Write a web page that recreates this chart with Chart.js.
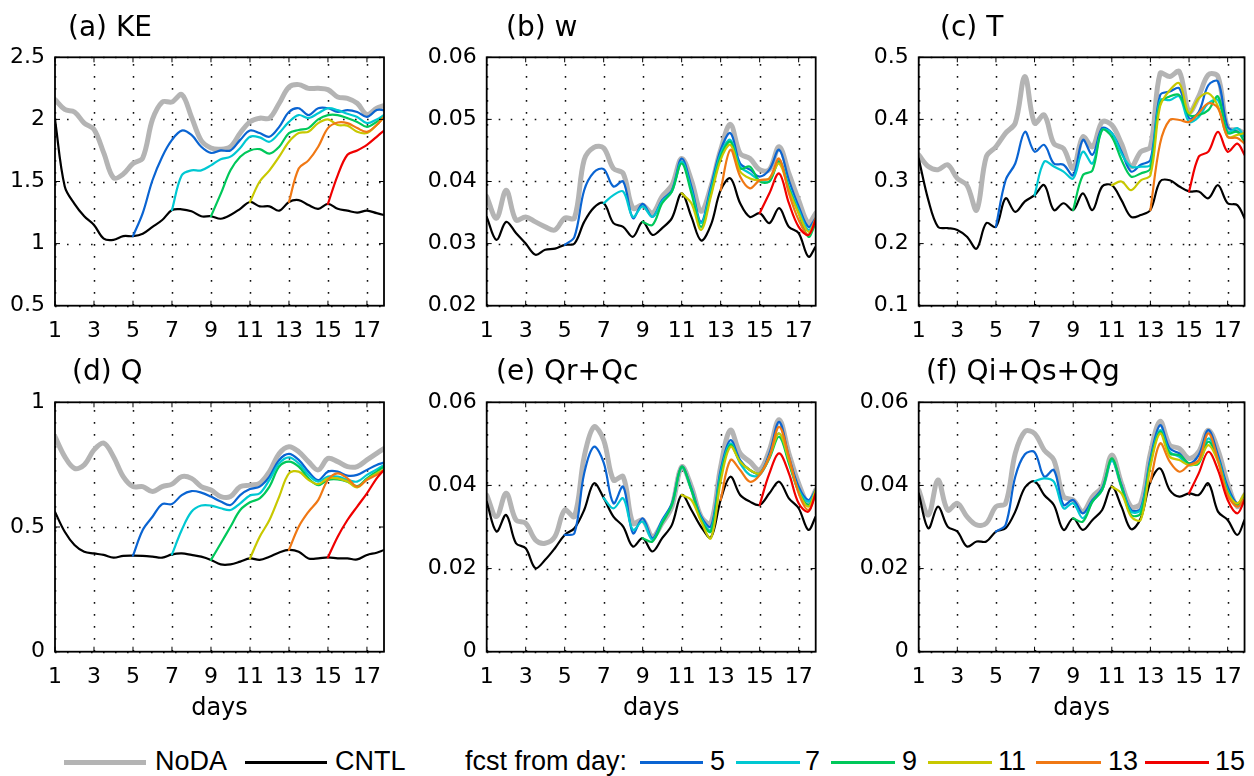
<!DOCTYPE html>
<html>
<head>
<meta charset="utf-8">
<script src="https://cdn.jsdelivr.net/npm/chart.js@4.4.1/dist/chart.umd.min.js"></script>
<style>
  html, body { margin: 0; padding: 0; background: #fff; }
  #fig { position: relative; width: 1254px; height: 776px; overflow: hidden; background: #fff; }
  #fig canvas { position: absolute; }
  .lg-line { position: absolute; }
  .lg-text { position: absolute; font: 27px "Liberation Sans", Arial, sans-serif; line-height: 27px; color: #000; white-space: nowrap; }
</style>
</head>
<body>
<div id="fig">
  <!-- legend -->
  <div class="lg-line" style="left:64px; top:760px; width:82px; height:5px; background:#b4b4b4;"></div>
  <div class="lg-text" style="left:155px; top:748px;">NoDA</div>
  <div class="lg-line" style="left:245px; top:761px; width:82px; height:3px; background:#000;"></div>
  <div class="lg-text" style="left:335px; top:748px;">CNTL</div>
  <div class="lg-text" style="left:465px; top:748px;">fcst from day:</div>
  <div class="lg-line" style="left:640px; top:761px; width:63px; height:3px; background:#0a64d2;"></div>
  <div class="lg-text" style="left:710px; top:748px;">5</div>
  <div class="lg-line" style="left:736px; top:761px; width:64px; height:3px; background:#00c8d2;"></div>
  <div class="lg-text" style="left:805px; top:748px;">7</div>
  <div class="lg-line" style="left:831px; top:761px; width:64px; height:3px; background:#00c85a;"></div>
  <div class="lg-text" style="left:902px; top:748px;">9</div>
  <div class="lg-line" style="left:928px; top:761px; width:64px; height:3px; background:#c8c800;"></div>
  <div class="lg-text" style="left:998px; top:748px;">11</div>
  <div class="lg-line" style="left:1036px; top:761px; width:65px; height:3px; background:#f07814;"></div>
  <div class="lg-text" style="left:1108px; top:748px;">13</div>
  <div class="lg-line" style="left:1145px; top:761px; width:64px; height:3px; background:#f00000;"></div>
  <div class="lg-text" style="left:1215px; top:748px;">15</div>
</div>

<script>
// half-day sampling, last sample is the end of the run
const DAYS = [1, 1.5, 2, 2.5, 3, 3.5, 4, 4.5, 5, 5.5, 6, 6.5, 7, 7.5, 8, 8.5, 9, 9.5,
  10, 10.5, 11, 11.5, 12, 12.5, 13, 13.5, 14, 14.5, 15, 15.5, 16, 16.5, 17, 17.5, 17.875];
const X_TICKS = [1, 3, 5, 7, 9, 11, 13, 15, 17];
const FCST_START = [5, 7, 9, 11, 13, 15];
const FCST_COLORS = ['#0a64d2', '#00c8d2', '#00c85a', '#c8c800', '#f07814', '#f00000'];

// (a) KE
const KE_YTICKS = [0.5, 1, 1.5, 2, 2.5];
const KE_NODA = [2.16, 2.08, 2.06, 1.97, 1.92, 1.73, 1.53, 1.56, 1.645, 1.69, 2.0, 2.14, 2.14, 2.2, 2.02, 1.83, 1.77, 1.76,
  1.78, 1.89, 1.98, 2.01, 2.01, 2.13, 2.26, 2.28, 2.25, 2.25, 2.24, 2.18, 2.17, 2.13, 2.04, 2.09, 2.11];
const KE_CNTL = [2.0, 1.46, 1.32, 1.22, 1.15, 1.04, 1.03, 1.06, 1.06, 1.08, 1.135, 1.19, 1.27, 1.276, 1.26, 1.22, 1.22, 1.20,
  1.23, 1.28, 1.335, 1.30, 1.30, 1.265, 1.335, 1.35, 1.31, 1.28, 1.32, 1.28, 1.265, 1.25, 1.265, 1.245, 1.23];
const KE_FCST = [
  [1.06, 1.245, 1.51, 1.70, 1.835, 1.91, 1.875, 1.78, 1.73, 1.75, 1.75, 1.835, 1.91, 1.89, 1.86, 1.94, 2.06, 2.09, 2.035, 2.09, 2.09, 2.06, 2.075, 2.06, 2.02, 2.075, 2.075],
  [1.27, 1.55, 1.59, 1.59, 1.63, 1.68, 1.70, 1.77, 1.86, 1.855, 1.82, 1.89, 1.98, 2.035, 2.01, 2.05, 2.09, 2.075, 2.045, 2.02, 1.97, 2.0, 2.035],
  [1.22, 1.40, 1.59, 1.70, 1.75, 1.76, 1.725, 1.78, 1.89, 1.915, 1.93, 2.0, 2.035, 2.035, 2.01, 1.98, 1.94, 1.98, 2.02],
  [1.335, 1.50, 1.59, 1.70, 1.82, 1.89, 1.90, 1.97, 2.0, 1.955, 1.95, 1.90, 1.89, 1.955, 2.02],
  [1.335, 1.605, 1.67, 1.78, 1.93, 1.975, 1.97, 1.93, 1.90, 1.955, 2.02],
  [1.32, 1.55, 1.715, 1.75, 1.795, 1.86, 1.91]
];

// (b) w
const W_YTICKS = [0.02, 0.03, 0.04, 0.05, 0.06];
const W_NODA = [0.0376, 0.0341, 0.0386, 0.0338, 0.0343, 0.0335, 0.0327, 0.0322, 0.0341, 0.0341, 0.0435, 0.0455, 0.0454, 0.0421, 0.0413, 0.0357, 0.0362, 0.0349,
  0.0376, 0.0394, 0.0437, 0.0402, 0.0352, 0.0392, 0.0451, 0.0492, 0.0445, 0.0437, 0.0419, 0.0419, 0.0456, 0.0413, 0.037, 0.0333, 0.0349];
const W_CNTL = [0.0343, 0.0306, 0.0335, 0.0317, 0.0300, 0.0282, 0.029, 0.0292, 0.0298, 0.030, 0.0335, 0.0358, 0.0365, 0.0333, 0.0327, 0.0311, 0.0335, 0.0314,
  0.0325, 0.0341, 0.0381, 0.0343, 0.0305, 0.0330, 0.0386, 0.0405, 0.0365, 0.0343, 0.0349, 0.0333, 0.0357, 0.0327, 0.0317, 0.0279, 0.0295];
const W_FCST = [
  [0.0298, 0.0311, 0.0386, 0.0415, 0.0420, 0.0392, 0.040, 0.0341, 0.0364, 0.0343, 0.037, 0.0386, 0.0437, 0.0392, 0.0335, 0.0392, 0.0451, 0.0478, 0.0429, 0.0419, 0.0408, 0.0419, 0.0451, 0.0402, 0.036, 0.0327, 0.0341],
  [0.0365, 0.0378, 0.0384, 0.0343, 0.036, 0.0343, 0.0368, 0.0384, 0.0432, 0.0386, 0.0333, 0.0386, 0.0445, 0.0467, 0.0424, 0.0413, 0.0402, 0.040, 0.0435, 0.0392, 0.0354, 0.0322, 0.0338],
  [0.0335, 0.033, 0.0365, 0.0384, 0.0429, 0.0381, 0.0327, 0.038, 0.044, 0.0464, 0.0421, 0.0424, 0.040, 0.040, 0.0432, 0.0389, 0.0349, 0.0311, 0.0333],
  [0.0381, 0.0365, 0.0322, 0.0376, 0.0435, 0.0459, 0.0416, 0.0405, 0.0402, 0.0405, 0.0429, 0.0386, 0.0349, 0.0319, 0.0338],
  [0.0386, 0.0451, 0.0408, 0.0389, 0.0402, 0.0405, 0.0437, 0.0381, 0.0338, 0.0314, 0.0341],
  [0.0349, 0.0381, 0.0413, 0.0365, 0.0327, 0.0314, 0.0338]
];

// (c) T
const T_YTICKS = [0.1, 0.2, 0.3, 0.4, 0.5];
const T_NODA = [0.343, 0.324, 0.319, 0.327, 0.305, 0.294, 0.254, 0.34, 0.356, 0.378, 0.394, 0.469, 0.394, 0.407, 0.361, 0.353, 0.321, 0.372,
  0.356, 0.396, 0.391, 0.361, 0.324, 0.348, 0.356, 0.474, 0.469, 0.477, 0.412, 0.437, 0.472, 0.469, 0.386, 0.383, 0.378];
const T_CNTL = [0.337, 0.270, 0.227, 0.225, 0.222, 0.211, 0.192, 0.233, 0.227, 0.273, 0.251, 0.268, 0.278, 0.294, 0.254, 0.265, 0.254, 0.281,
  0.254, 0.292, 0.294, 0.270, 0.243, 0.246, 0.254, 0.30, 0.302, 0.292, 0.284, 0.284, 0.273, 0.294, 0.265, 0.262, 0.241];
const T_FCST = [
  [0.227, 0.302, 0.329, 0.380, 0.348, 0.359, 0.329, 0.327, 0.310, 0.367, 0.343, 0.386, 0.378, 0.348, 0.316, 0.327, 0.335, 0.439, 0.445, 0.45, 0.402, 0.412, 0.455, 0.461, 0.388, 0.380, 0.372],
  [0.278, 0.332, 0.324, 0.316, 0.305, 0.348, 0.329, 0.383, 0.378, 0.345, 0.324, 0.324, 0.327, 0.431, 0.431, 0.437, 0.396, 0.404, 0.426, 0.431, 0.380, 0.386, 0.372],
  [0.254, 0.310, 0.318, 0.383, 0.372, 0.335, 0.308, 0.313, 0.321, 0.426, 0.437, 0.439, 0.407, 0.407, 0.415, 0.437, 0.378, 0.380, 0.364],
  [0.294, 0.30, 0.286, 0.302, 0.310, 0.421, 0.447, 0.458, 0.410, 0.434, 0.442, 0.421, 0.372, 0.375, 0.378],
  [0.254, 0.361, 0.399, 0.399, 0.396, 0.410, 0.426, 0.418, 0.372, 0.370, 0.361],
  [0.284, 0.34, 0.348, 0.380, 0.348, 0.361, 0.343]
];

// (d) Q
const Q_YTICKS = [0, 0.5, 1];
const Q_NODA = [0.862, 0.782, 0.735, 0.749, 0.809, 0.836, 0.782, 0.702, 0.662, 0.662, 0.642, 0.662, 0.672, 0.702, 0.695, 0.662, 0.648, 0.622,
  0.622, 0.662, 0.668, 0.675, 0.722, 0.795, 0.822, 0.802, 0.762, 0.729, 0.775, 0.762, 0.742, 0.742, 0.769, 0.795, 0.815];
const Q_CNTL = [0.56, 0.481, 0.428, 0.401, 0.394, 0.388, 0.377, 0.384, 0.385, 0.384, 0.381, 0.377, 0.390, 0.394, 0.388, 0.381, 0.368, 0.350,
  0.350, 0.361, 0.374, 0.368, 0.381, 0.398, 0.408, 0.401, 0.374, 0.374, 0.378, 0.374, 0.374, 0.370, 0.388, 0.397, 0.408];
const Q_FCST = [
  [0.385, 0.488, 0.541, 0.592, 0.592, 0.628, 0.644, 0.638, 0.622, 0.602, 0.588, 0.628, 0.652, 0.662, 0.702, 0.769, 0.793, 0.769, 0.722, 0.688, 0.722, 0.722, 0.706, 0.709, 0.729, 0.749, 0.758],
  [0.390, 0.488, 0.561, 0.586, 0.586, 0.575, 0.568, 0.595, 0.626, 0.635, 0.689, 0.755, 0.779, 0.755, 0.709, 0.682, 0.702, 0.702, 0.689, 0.682, 0.709, 0.731, 0.749],
  [0.368, 0.434, 0.501, 0.568, 0.599, 0.615, 0.662, 0.742, 0.762, 0.742, 0.695, 0.668, 0.689, 0.691, 0.682, 0.664, 0.695, 0.722, 0.742],
  [0.374, 0.461, 0.528, 0.622, 0.715, 0.722, 0.689, 0.672, 0.695, 0.695, 0.682, 0.659, 0.691, 0.715, 0.729],
  [0.408, 0.501, 0.561, 0.608, 0.689, 0.715, 0.695, 0.662, 0.689, 0.709, 0.729],
  [0.378, 0.461, 0.528, 0.582, 0.635, 0.695, 0.729]
];

// (e) Qr+Qc
const QRC_YTICKS = [0, 0.02, 0.04, 0.06];
const QRC_NODA = [0.0377, 0.0325, 0.0381, 0.0317, 0.0309, 0.0269, 0.0261, 0.0277, 0.0341, 0.0325, 0.0469, 0.0541, 0.0509, 0.0413, 0.0421, 0.0309, 0.0317, 0.0277,
  0.0309, 0.0349, 0.0445, 0.0397, 0.0325, 0.0309, 0.0445, 0.0533, 0.0477, 0.0457, 0.0437, 0.0485, 0.0558, 0.0477, 0.0405, 0.0357, 0.0389];
const QRC_CNTL = [0.0361, 0.0289, 0.0329, 0.0261, 0.0249, 0.0201, 0.0221, 0.0249, 0.0281, 0.0297, 0.0341, 0.0405, 0.0370, 0.0325, 0.0301, 0.0253, 0.0273, 0.0241,
  0.0273, 0.0305, 0.0377, 0.0341, 0.0300, 0.0275, 0.0365, 0.0421, 0.0377, 0.0361, 0.0353, 0.0381, 0.0409, 0.0369, 0.0345, 0.0293, 0.0325];
const QRC_FCST = [
  [0.0281, 0.0285, 0.0429, 0.0493, 0.0455, 0.0357, 0.0397, 0.0285, 0.0321, 0.0273, 0.0317, 0.0357, 0.0445, 0.0393, 0.0325, 0.0301, 0.0437, 0.0509, 0.0461, 0.0437, 0.0429, 0.0477, 0.0553, 0.0469, 0.0397, 0.0365, 0.0389],
  [0.0370, 0.0345, 0.0369, 0.0293, 0.0313, 0.0269, 0.0313, 0.0353, 0.0444, 0.0389, 0.0321, 0.0293, 0.0429, 0.0501, 0.0453, 0.0425, 0.0425, 0.0469, 0.0525, 0.0457, 0.0389, 0.0361, 0.0385],
  [0.0273, 0.0265, 0.0309, 0.0353, 0.0445, 0.0389, 0.0317, 0.0289, 0.0421, 0.0497, 0.0457, 0.0437, 0.0429, 0.0465, 0.0517, 0.0453, 0.0385, 0.0353, 0.0385],
  [0.0377, 0.0365, 0.0313, 0.0273, 0.0409, 0.0493, 0.0457, 0.0437, 0.0429, 0.0469, 0.0525, 0.0461, 0.0385, 0.0349, 0.0389],
  [0.0365, 0.0461, 0.0437, 0.0409, 0.0425, 0.0469, 0.0541, 0.0469, 0.0381, 0.0341, 0.0381],
  [0.0353, 0.0429, 0.0477, 0.0429, 0.0357, 0.0337, 0.0381]
];

// (f) Qi+Qs+Qg
const QISG_YTICKS = [0, 0.02, 0.04, 0.06];
const QISG_NODA = [0.0389, 0.0329, 0.0413, 0.0341, 0.0357, 0.0325, 0.0305, 0.0309, 0.0349, 0.0357, 0.0477, 0.0530, 0.0525, 0.0485, 0.0461, 0.0373, 0.0365, 0.0337,
  0.0373, 0.0397, 0.0473, 0.0405, 0.0349, 0.0357, 0.0477, 0.0554, 0.0497, 0.0489, 0.0465, 0.0481, 0.0533, 0.0485, 0.0405, 0.0349, 0.0377];
const QISG_CNTL = [0.0381, 0.0297, 0.0349, 0.0301, 0.0289, 0.0253, 0.0265, 0.0265, 0.0289, 0.0297, 0.0337, 0.0395, 0.0410, 0.0377, 0.0353, 0.0293, 0.0321, 0.0293,
  0.0317, 0.0341, 0.0397, 0.0349, 0.0295, 0.0321, 0.0409, 0.0441, 0.0389, 0.0373, 0.0381, 0.0377, 0.0405, 0.0337, 0.0317, 0.0281, 0.0317];
const QISG_FCST = [
  [0.0289, 0.0305, 0.0421, 0.0475, 0.0480, 0.0421, 0.0437, 0.0353, 0.0365, 0.0333, 0.0365, 0.0393, 0.0461, 0.0401, 0.0341, 0.0345, 0.0465, 0.0545, 0.0489, 0.0477, 0.0453, 0.0473, 0.0533, 0.0473, 0.0397, 0.0357, 0.0377],
  [0.0410, 0.0417, 0.0409, 0.0345, 0.0357, 0.0321, 0.0361, 0.0389, 0.0459, 0.0397, 0.0337, 0.0341, 0.0457, 0.0533, 0.0481, 0.0469, 0.0449, 0.0457, 0.0513, 0.0465, 0.0389, 0.0353, 0.0377],
  [0.0321, 0.0313, 0.0361, 0.0389, 0.0465, 0.0397, 0.0329, 0.0333, 0.0453, 0.0529, 0.0477, 0.0473, 0.0453, 0.0453, 0.0505, 0.0461, 0.0385, 0.0353, 0.0377],
  [0.0397, 0.0381, 0.0325, 0.0317, 0.0445, 0.0525, 0.0469, 0.0461, 0.0449, 0.0457, 0.0497, 0.0457, 0.0381, 0.0357, 0.0381],
  [0.0409, 0.0501, 0.0457, 0.0433, 0.0449, 0.0461, 0.0525, 0.0461, 0.0377, 0.0349, 0.0369],
  [0.0381, 0.0429, 0.0481, 0.0437, 0.0365, 0.0333, 0.0365]
];

// page layout (pixels)
const COLS = [
  { left: 0, width: 420, plotLeft: 55, plotRight: 384 },
  { left: 420, width: 420, plotLeft: 486.7, plotRight: 815.7 },
  { left: 840, width: 414, plotLeft: 918.7, plotRight: 1247.3 }
];
const ROWS = [
  { top: 0, height: 345, plotTop: 57.3, plotBottom: 305.7, titleY: 36 },
  { top: 345, height: 385, plotTop: 402.3, plotBottom: 651.7, titleY: 35 }
];

const PANELS = [
  { title: '(a) KE', noda: KE_NODA, cntl: KE_CNTL, fcst: KE_FCST, yTicks: KE_YTICKS, col: 0, row: 0, titleX: 68 },
  { title: '(b) w', noda: W_NODA, cntl: W_CNTL, fcst: W_FCST, yTicks: W_YTICKS, col: 1, row: 0, titleX: 86 },
  { title: '(c) T', noda: T_NODA, cntl: T_CNTL, fcst: T_FCST, yTicks: T_YTICKS, col: 2, row: 0, titleX: 100 },
  { title: '(d) Q', noda: Q_NODA, cntl: Q_CNTL, fcst: Q_FCST, yTicks: Q_YTICKS, col: 0, row: 1, titleX: 72 },
  { title: '(e) Qr+Qc', noda: QRC_NODA, cntl: QRC_CNTL, fcst: QRC_FCST, yTicks: QRC_YTICKS, col: 1, row: 1, titleX: 76 },
  { title: '(f) Qi+Qs+Qg', noda: QISG_NODA, cntl: QISG_CNTL, fcst: QISG_FCST, yTicks: QISG_YTICKS, col: 2, row: 1, titleX: 86 }
];

function toPoints(values, startDay) {
  const i0 = DAYS.indexOf(startDay);
  return values.map((v, k) => ({ x: DAYS[i0 + k], y: v }));
}

// panel label, drawn like a matlab title
const panelTitle = {
  id: 'panelTitle',
  afterDraw(chart, args, opts) {
    const ctx = chart.ctx;
    ctx.save();
    ctx.font = '28px "DejaVu Sans"';
    ctx.fillStyle = '#000';
    ctx.textBaseline = 'alphabetic';
    ctx.fillText(opts.text, opts.x, opts.y);
    ctx.restore();
  }
};

// dotted grid, box around the axes and inward tick marks on all four sides
const frame = {
  id: 'frame',
  beforeDatasetsDraw(chart) {
    const { ctx, chartArea: a, scales: { x, y } } = chart;
    ctx.save();
    ctx.strokeStyle = '#111';
    ctx.lineWidth = 1.5;
    ctx.setLineDash([1.6, 10.4]);
    ctx.beginPath();
    x.ticks.forEach(t => {
      const px = Math.round(x.getPixelForValue(t.value)) + 0.5;
      ctx.moveTo(px, a.bottom); ctx.lineTo(px, a.top);
    });
    y.ticks.forEach(t => {
      const py = Math.round(y.getPixelForValue(t.value)) + 0.5;
      ctx.moveTo(a.left, py); ctx.lineTo(a.right, py);
    });
    ctx.stroke();
    ctx.restore();
  },
  afterDatasetsDraw(chart) {
    const { ctx, chartArea: a, scales: { x, y } } = chart;
    ctx.save();
    ctx.strokeStyle = '#000';
    ctx.lineWidth = 1;
    ctx.beginPath();
    x.ticks.forEach(t => {
      const px = x.getPixelForValue(t.value);
      ctx.moveTo(px, a.bottom); ctx.lineTo(px, a.bottom - 5);
      ctx.moveTo(px, a.top); ctx.lineTo(px, a.top + 5);
    });
    y.ticks.forEach(t => {
      const py = y.getPixelForValue(t.value);
      ctx.moveTo(a.left, py); ctx.lineTo(a.left + 5, py);
      ctx.moveTo(a.right, py); ctx.lineTo(a.right - 5, py);
    });
    ctx.stroke();
    ctx.lineWidth = 1.8;
    ctx.strokeRect(a.left, a.top, a.right - a.left, a.bottom - a.top);
    ctx.restore();
  }
};

const fig = document.getElementById('fig');
const tickFont = { family: 'DejaVu Sans', size: 22 };

function makePanel(p) {
  const col = COLS[p.col];
  const row = ROWS[p.row];
  const canvas = document.createElement('canvas');
  canvas.width = col.width;
  canvas.height = row.height;
  canvas.style.left = col.left + 'px';
  canvas.style.top = row.top + 'px';
  fig.appendChild(canvas);

  const datasets = [
    { label: 'NoDA', data: toPoints(p.noda, 1), borderColor: '#b4b4b4', borderWidth: 5, order: 8 },
    { label: 'CNTL', data: toPoints(p.cntl, 1), borderColor: '#000000', borderWidth: 2.2, order: 7 },
    ...p.fcst.map((vals, i) => ({
      label: 'fcst ' + FCST_START[i],
      data: toPoints(vals, FCST_START[i]),
      borderColor: FCST_COLORS[i],
      borderWidth: 2.2,
      order: 6 - i
    }))
  ];

  const yMin = p.yTicks[0];
  const yMax = p.yTicks[p.yTicks.length - 1];

  new Chart(canvas, {
    type: 'line',
    data: { datasets },
    options: {
      responsive: false,
      animation: false,
      layout: {
        padding: { top: row.plotTop - row.top, left: 0, right: col.left + col.width - col.plotRight, bottom: 0 }
      },
      elements: {
        point: { radius: 0 },
        line: { tension: 0.35, borderCapStyle: 'round', borderJoinStyle: 'round', fill: false }
      },
      plugins: {
        legend: { display: false },
        tooltip: { enabled: false },
        panelTitle: { text: p.title, x: p.titleX, y: row.titleY }
      },
      scales: {
        x: {
          type: 'linear',
          min: 1,
          max: 17.875,
          afterBuildTicks: s => { s.ticks = X_TICKS.map(v => ({ value: v })); },
          afterFit: s => { s.height = row.top + row.height - row.plotBottom; },
          grid: { display: false, drawTicks: false },
          border: { display: false },
          ticks: {
            font: tickFont, color: '#000', padding: 12,
            autoSkip: false, maxRotation: 0,
            callback: v => String(v)
          },
          title: {
            display: p.row === 1,
            text: 'days',
            color: '#000',
            font: { family: 'DejaVu Sans', size: 24 },
            padding: { top: 0, bottom: 7 }
          }
        },
        y: {
          type: 'linear',
          min: yMin,
          max: yMax,
          afterBuildTicks: s => { s.ticks = p.yTicks.map(v => ({ value: v })); },
          afterFit: s => { s.width = col.plotLeft - col.left; },
          grid: { display: false, drawTicks: false },
          border: { display: false },
          ticks: {
            font: tickFont, color: '#000', padding: 10,
            callback: v => String(Number(v.toFixed(3)))
          }
        }
      }
    },
    plugins: [panelTitle, frame]
  });
}

PANELS.forEach(makePanel);
</script>
</body>
</html>
